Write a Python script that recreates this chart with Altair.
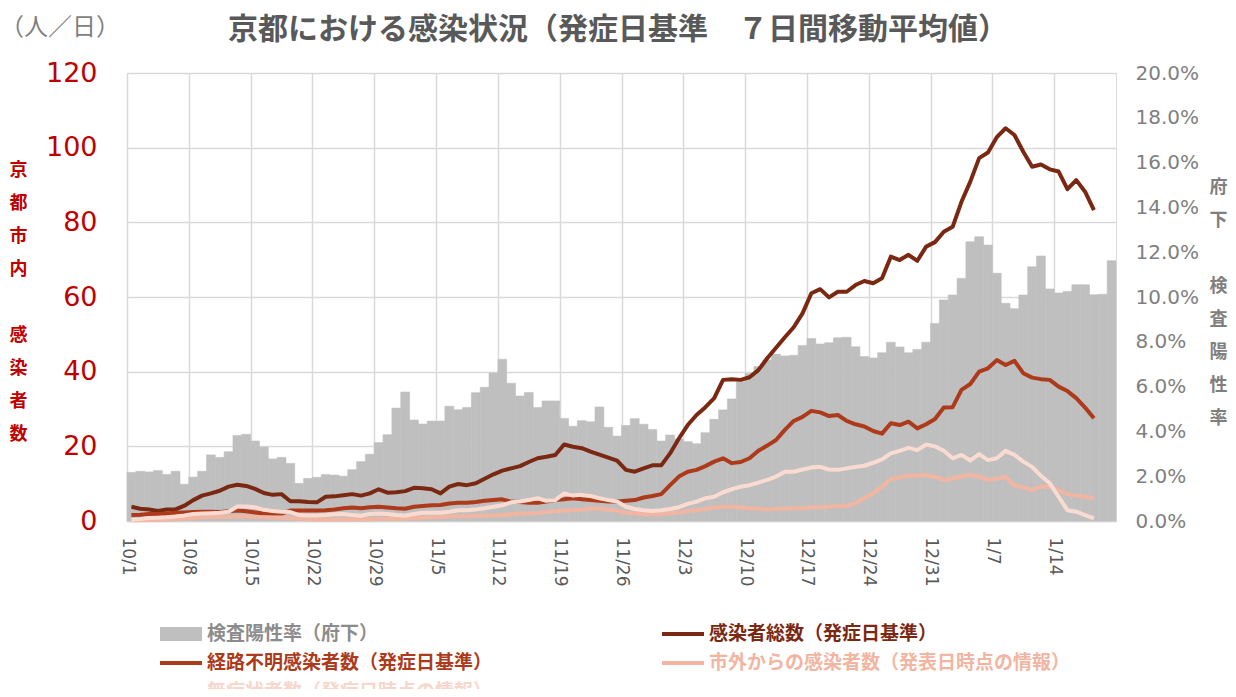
import altair as alt
import pandas as pd

# ---------------- data ----------------
chart_title = '京都における感染状況（発症日基準　７日間移動平均値）'
unit_label = '（人／日）'
tick_labels = ['10/1', '10/8', '10/15', '10/22', '10/29', '11/5', '11/12', '11/19',
               '11/26', '12/3', '12/10', '12/17', '12/24', '12/31', '1/7', '1/14']

series_names = ['検査陽性率（府下）', '感染者総数（発症日基準）', '経路不明感染者数（発症日基準）',
                '市外からの感染者数（発表日時点の情報）', '無症状者数（発症日時点の情報）']
series_colors = ['#BFBFBF', '#7A2812', '#AD3A1B', '#F2B5A1', '#FADBD1']
label_colors = ['#8C8C8C', '#7A2812', '#AD3A1B', '#F2B5A1', '#F8D6CB']
# legend entries are filled column by column: col 1 = 0,2,4 ; col 2 = 1,3
legend_order = [0, 2, 4, 1, 3]

# daily positivity rate (%), 10/1 .. 1/20
positivity = [2.17, 2.22, 2.19, 2.25, 2.08, 2.22, 1.64, 1.96, 2.22, 2.95, 2.84, 3.09, 3.82, 3.87,
              3.57, 3.30, 2.77, 2.84, 2.57, 1.68, 1.90, 1.95, 2.07, 2.05,
              2.00, 2.29, 2.65, 2.98, 3.50, 3.85, 5.04, 5.76, 4.51, 4.33, 4.46, 4.46, 5.12, 4.97,
              5.07, 5.73, 5.97, 6.61, 7.22, 6.15, 5.58, 5.74, 5.07, 5.36,
              5.36, 4.58, 4.23, 4.48, 4.43, 5.09, 4.18, 3.79, 4.26, 4.57, 4.32, 4.08, 3.57, 3.84,
              3.66, 3.54, 3.45, 3.94, 4.54, 4.96, 5.45, 6.22, 6.59,
              6.90, 7.19, 7.44, 7.37, 7.40, 7.84, 8.15, 7.90, 7.96, 8.18, 8.20, 7.78, 7.34, 7.28,
              7.51, 7.98, 7.77, 7.51, 7.66, 7.98, 8.82, 9.87,
              10.09, 10.83, 12.47, 12.69, 12.32, 11.06, 9.72, 9.48, 10.09, 11.35, 11.83, 10.36,
              10.18, 10.25, 10.55, 10.55, 10.10, 10.12, 11.62]

# 7-day moving averages (persons/day), 10/1 .. 1/18
total = [3.8, 3.3, 3.1, 2.7, 3.1, 3.1, 4.1, 5.6, 6.8, 7.4, 8.1, 9.2, 9.7, 9.4, 8.6, 7.5, 7.0,
         7.2, 5.3, 5.3, 5.1, 5.0, 6.5, 6.6,
         6.9, 7.2, 6.8, 7.4, 8.5, 7.6, 7.7, 8.0, 8.9, 8.8, 8.5, 7.4, 9.2, 9.9, 9.6, 10.1, 11.3,
         12.5, 13.5, 14.1, 14.7, 15.8, 16.8,
         17.2, 17.7, 20.5, 19.9, 19.5, 18.6, 17.8, 17.0, 16.2, 13.7, 13.2, 14.1, 14.9, 14.9,
         18.1, 22.1, 25.7, 28.4, 30.5, 32.9, 37.8, 38.0, 37.8, 38.5,
         40.4, 43.6, 46.4, 49.2, 51.9, 55.6, 61.0, 62.1, 59.9, 61.4, 61.4, 63.2, 64.3, 63.7,
         65.0, 70.8, 69.9, 71.3, 69.7, 73.5, 74.7, 77.5,
         78.8, 85.5, 90.9, 97.2, 98.7, 102.8, 105.2, 103.4, 98.9, 94.9, 95.5, 94.2, 93.6,
         88.9, 91.3, 88.2, 83.3]

unknown = [1.6, 1.7, 1.9, 1.9, 2.0, 2.2, 2.3, 2.4, 2.5, 2.5, 2.4, 2.6, 2.8, 2.6, 2.3, 2.0,
           2.0, 2.0, 2.8, 2.8, 2.8, 2.8, 2.9, 3.1,
           3.4, 3.6, 3.4, 3.7, 3.8, 3.6, 3.4, 3.3, 3.8, 4.0, 4.2, 4.3, 4.7, 4.9, 4.9, 5.1, 5.4,
           5.6, 5.8, 5.2, 5.1, 4.9, 4.9,
           5.2, 5.6, 5.8, 6.1, 5.8, 5.6, 5.4, 5.2, 5.2, 5.4, 5.6, 6.3, 6.7, 7.2, 9.6, 11.9,
           13.2, 13.7, 14.7, 15.9, 16.8, 15.5, 15.8, 16.8,
           18.8, 20.2, 21.7, 24.4, 26.8, 27.9, 29.5, 29.1, 28.1, 28.4, 26.8, 25.9, 25.3, 24.1,
           23.4, 26.2, 25.7, 26.6, 24.8, 25.9, 27.3, 30.4,
           30.5, 35.1, 36.7, 40.0, 40.9, 43.1, 41.8, 42.9, 39.6, 38.4, 38.0, 37.8, 36.0, 34.8,
           32.9, 30.4, 27.5]

outside = [0.2, 0.2, 0.3, 0.3, 0.4, 0.5, 0.6, 0.8, 1.0, 1.1, 1.1, 1.1, 1.2, 1.2, 1.1, 1.0,
           0.9, 0.9, 0.8, 0.6, 0.5, 0.4, 0.4, 0.4,
           0.4, 0.4, 0.5, 0.5, 0.6, 0.6, 0.6, 0.7, 0.8, 0.9, 1.0, 1.1, 1.2, 1.3, 1.3, 1.4, 1.4,
           1.5, 1.6, 1.8, 2.0, 2.0, 2.1,
           2.5, 2.6, 2.8, 2.9, 3.0, 3.3, 3.4, 3.0, 2.8, 2.2, 2.0, 1.8, 1.8, 1.9, 2.1, 2.3, 2.7,
           2.9, 3.3, 3.6, 3.8, 3.8, 3.6, 3.4,
           3.3, 3.1, 3.3, 3.3, 3.4, 3.4, 3.7, 3.7, 3.8, 4.0, 4.0, 4.7, 6.1, 7.4, 9.2, 11.2,
           11.7, 12.1, 12.1, 12.3, 11.8, 11.0,
           11.4, 11.9, 12.3, 11.9, 11.0, 11.4, 11.7, 9.6, 9.0, 8.3, 9.2, 9.2, 8.3, 7.2, 6.8,
           6.5, 6.1]

asymptomatic = [0.3, 0.5, 0.8, 0.9, 1.0, 1.2, 1.5, 1.9, 2.0, 2.1, 2.2, 2.5, 3.9, 3.9, 3.7,
                3.0, 2.7, 2.5, 2.4, 1.6, 1.5, 1.5, 1.6, 1.8,
                1.9, 1.6, 1.4, 1.9, 2.0, 1.9, 1.6, 1.4, 1.9, 2.2, 2.2, 2.2, 2.5, 2.9, 2.9, 3.1,
                3.4, 3.8, 4.2, 5.0, 5.2, 5.6, 6.1,
                5.4, 5.6, 7.4, 6.8, 7.0, 6.7, 6.1, 5.6, 5.2, 3.8, 3.2, 2.9, 2.7, 2.9, 3.2, 3.7,
                4.6, 5.2, 6.1, 6.5, 7.7, 8.5, 9.2, 9.6,
                10.3, 11.0, 11.9, 13.2, 13.2, 13.8, 14.3, 14.5, 13.8, 13.7, 14.1, 14.5, 14.8,
                15.6, 16.5, 18.1, 18.8, 19.6, 19.0, 20.5, 20.0, 18.8,
                16.8, 17.7, 16.2, 17.9, 16.3, 16.8, 18.8, 17.7, 15.9, 14.5, 12.1, 10.1, 6.5,
                2.9, 2.5, 1.6, 0.7]

# ---------------- tables ----------------
bar_df = pd.DataFrame({
    'day': list(range(len(positivity))),
    'rate': [v / 100 for v in positivity],
    'series': series_names[0],
})
bar_df['day_end'] = bar_df['day'] + 1
bar_df['base'] = 0.0

line_series = [total, unknown, outside, asymptomatic]
line_frames = []
for name, vals in zip(series_names[1:], line_series):
    line_frames.append(pd.DataFrame({
        'day_mid': [i + 0.5 for i in range(len(vals))],
        'value': vals,
        'series': name,
    }))

# ---------------- shared definitions ----------------
n_days = len(positivity)
tick_days = [7 * i for i in range(len(tick_labels))]
label_array = '[' + ','.join("'" + t + "'" for t in tick_labels) + ']'

x_scale = alt.Scale(domain=[0, n_days], nice=False, zero=False)
x_axis = alt.Axis(values=tick_days, labelExpr=label_array + '[round(datum.value / 7)]',
                  title=None, grid=True, gridColor='#D9D9D9', gridWidth=1.5,
                  domain=True, domainColor='#D9D9D9', domainWidth=1.5, ticks=False,
                  labelAngle=90, labelAlign='left', labelBaseline='middle',
                  labelPadding=16, labelFontSize=17, labelColor='#595959',
                  labelFont='DejaVu Sans')


def ternary(colors):
    expr = "'" + colors[-1] + "'"
    for name, col in reversed(list(zip(series_names[:-1], colors[:-1]))):
        expr = "datum.value === '" + name + "' ? '" + col + "' : (" + expr + ")"
    return expr


BLANK = '\u200b'
wide = 'M-2.1,-0.7L2.1,-0.7L2.1,0.7L-2.1,0.7Z'
thin = 'M-2.1,-0.2L2.1,-0.2L2.1,0.2L-2.1,0.2Z'
legend = alt.Legend(
    title=None, orient='none', legendX=44, legendY=551, columns=2, padding=0,
    symbolType={'expr': "datum.value === '" + series_names[0] + "' ? '" + wide + "' : '" + thin + "'"},
    symbolSize=400, symbolStrokeWidth=0,
    symbolFillColor={'expr': ternary(series_colors)},
    labelColor={'expr': ternary(label_colors)},
    labelFont='Noto Sans CJK JP', labelFontSize=19, labelFontWeight='bold',
    labelOffset=16, labelLimit=700, rowPadding=9, columnPadding=169,
)
color = alt.Color('series:N',
                  scale=alt.Scale(domain=[series_names[i] for i in legend_order],
                                  range=[series_colors[i] for i in legend_order]),
                  legend=legend)

# ---------------- layers ----------------
bars = alt.Chart(bar_df).mark_rect(stroke='#BFBFBF', strokeWidth=0.6).encode(
    x=alt.X('day:Q', scale=x_scale, axis=x_axis),
    x2='day_end:Q',
    y=alt.Y('rate:Q', scale=alt.Scale(domain=[0, 0.2], nice=False),
            axis=alt.Axis(orient='right', format='.1%',
                          values=[i / 50 for i in range(11)], grid=False,
                          domain=False, ticks=False, labelPadding=19,
                          labelFontSize=20, labelColor='#7F7F7F', labelFont='DejaVu Sans',
                          title=['府', '下', BLANK, '検', '査', '陽', '性', '率'],
                          titleAngle=0, titleX=102, titleY=105, titleAlign='center',
                          titleBaseline='top', titleLineHeight=33,
                          titleFont='Noto Sans CJK JP', titleFontSize=18,
                          titleFontWeight='bold', titleColor='#7F7F7F')),
    y2='base:Q',
    color=color,
)

left_axis = alt.Axis(orient='left', values=list(range(0, 121, 20)), grid=True,
                     gridColor='#D9D9D9', gridWidth=1.5, domain=False, ticks=False,
                     labelPadding=30, labelFontSize=27, labelColor='#C00000',
                     labelFont='DejaVu Sans',
                     title=['京', '都', '市', '内', BLANK, '感', '染', '者', '数'],
                     titleAngle=0, titleX=-109, titleY=88, titleAlign='center',
                     titleBaseline='top', titleLineHeight=33,
                     titleFont='Noto Sans CJK JP', titleFontSize=18,
                     titleFontWeight='bold', titleColor='#C00000')

line_layers = []
for df in line_frames:
    line_layers.append(
        alt.Chart(df).mark_line(strokeWidth=4, strokeJoin='round').encode(
            x=alt.X('day_mid:Q', scale=x_scale, axis=x_axis),
            y=alt.Y('value:Q', scale=alt.Scale(domain=[0, 120], nice=False), axis=left_axis),
            color=color,
        )
    )
lines = alt.layer(*line_layers)

text_df = pd.DataFrame({'t': [unit_label]})
unit = alt.Chart(text_df).mark_text(
    font='Noto Sans CJK JP', fontSize=24, color='#7F7F7F', align='center', baseline='middle'
).encode(x=alt.value(-67), y=alt.value(-45), text='t:N')

title_df = pd.DataFrame({'t': [chart_title]})
title = alt.Chart(title_df).mark_text(
    font='Noto Sans CJK JP', fontSize=30, fontWeight='bold', color='#595959',
    align='center', baseline='middle'
).encode(x=alt.value(491), y=alt.value(-43), text='t:N')

chart = alt.layer(bars, lines, unit, title).resolve_scale(y='independent').properties(
    width=989, height=448,
    padding={'left': 119, 'top': 65, 'right': 112, 'bottom': 168},
    autosize=alt.AutoSizeParams(type='none'),
).configure_view(stroke=None).configure(background='white')

chart.save('out.html', embed_options={'renderer': 'svg', 'actions': False})
